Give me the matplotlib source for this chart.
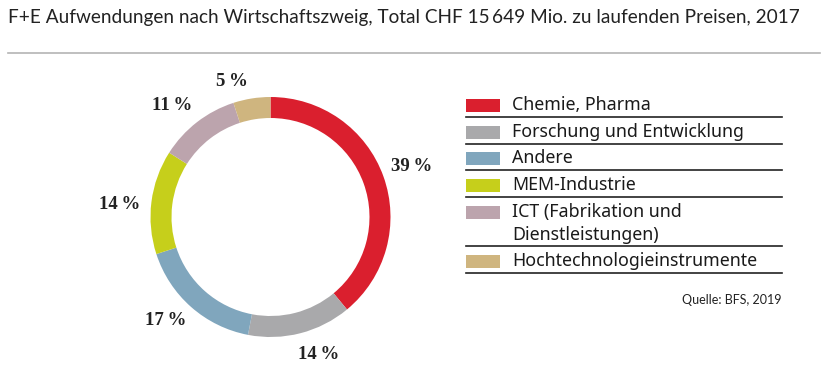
import matplotlib
matplotlib.use("Agg")
import matplotlib.pyplot as plt
import numpy as np

# data
sectors = ["Chemie, Pharma", "Forschung und Entwicklung", "Andere",
           "MEM-Industrie", "ICT (Fabrikation und\nDienstleistungen)",
           "Hochtechnologieinstrumente"]
shares = [39, 14, 17, 14, 11, 5]
colors = ["#da1f2e", "#a9a9ab", "#80a6bd", "#c6cf1b", "#bca4ad", "#cfb57f"]

title = ("F+E Aufwendungen nach Wirtschaftszweig, Total CHF 15\u2009649 Mio. "
         "zu laufenden Preisen, 2017")
source = "Quelle: BFS, 2019"

# label placement nudges: (angle shift in degrees ccw, radius as fraction of R)
label_nudge = [(0, 1.25), (5, 1.215), (-4, 1.23), (2.6, 1.26), (3.6, 1.24), (6.8, 1.17)]

W, H = 828, 367
fig = plt.figure(figsize=(W / 100, H / 100), dpi=100)

# overlay in pixel coordinates (y downwards) for title, rules and legend
ov = fig.add_axes([0, 0, 1, 1])
ov.set_xlim(0, W)
ov.set_ylim(H, 0)
ov.axis("off")

ov.text(8, 18, title, fontsize=13.7, color="#222222", va="center", ha="left",
        family=["Lato", "DejaVu Sans"])
ov.plot([8, 820], [53, 53], color="#b4b4b4", lw=1.2)

# donut
cx, cy, R = 270.5, 217, 118.5
half = 150
ax = fig.add_axes([(cx - half) / W, (H - cy - half) / H, 2 * half / W, 2 * half / H])
lim = half / R
ax.set_xlim(-lim, lim)
ax.set_ylim(-lim, lim)
ax.set_aspect("equal")
ax.axis("off")
wedges, _ = ax.pie(shares, colors=colors, startangle=90, counterclock=False,
                   radius=1.0, wedgeprops=dict(width=0.175, edgecolor="none"))
for w, v, (dang, r) in zip(wedges, shares, label_nudge):
    ang = np.deg2rad((w.theta1 + w.theta2) / 2 + dang)
    ax.text(r * np.cos(ang), r * np.sin(ang), f"{v}\u2009%", ha="center",
            va="center", fontsize=13.5, fontweight="bold", color="#222222",
            family=["Liberation Serif", "DejaVu Serif"])

# legend
row_y = [105, 132, 158, 185, 212, 261]
rule_y = [117, 144, 170, 197, 246, 273]
for name, col, ty, ry in zip(sectors, colors, row_y, rule_y):
    ov.add_patch(plt.Rectangle((466, ty - 6.5), 34, 13, color=col, lw=0))
    first, *rest = name.split("\n")
    ov.text(512, ty, first, fontsize=12.8, va="center", ha="left",
            color="#1a1a1a", family=["Noto Sans", "DejaVu Sans"])
    if rest:
        ov.text(512, ty + 23, rest[0], fontsize=12.8, va="center", ha="left",
                color="#1a1a1a", family=["Noto Sans", "DejaVu Sans"])
    ov.plot([466, 782], [ry, ry], color="#222222", lw=1.2)

ov.text(782, 300, source, fontsize=9, ha="right", va="center",
        color="#222222", family=["Lato", "DejaVu Sans"])

fig.savefig("out.png", dpi=100, facecolor="white")
